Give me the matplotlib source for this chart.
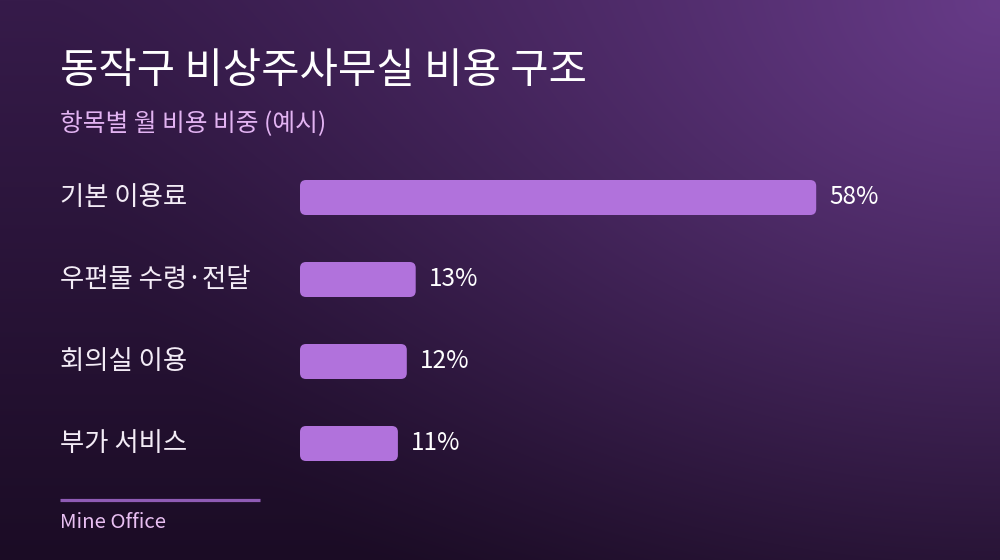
import numpy as np
import matplotlib.pyplot as plt
from matplotlib.colors import to_rgb
from matplotlib.patches import FancyBboxPatch
from matplotlib.transforms import blended_transform_factory

plt.rcParams['font.family'] = ['Noto Sans CJK KR', 'DejaVu Sans']

title = '동작구 비상주사무실 비용 구조'
subtitle = '항목별 월 비용 비중 (예시)'
categories = ['기본 이용료', '우편물 수령·전달', '회의실 이용', '부가 서비스']
shares = [58, 13, 12, 11]
brand = 'Mine Office'

W, H = 1000, 560
fig = plt.figure(figsize=(10, 5.6), dpi=100)

# background: dark vertical gradient + soft glow at top right
bg = fig.add_axes([0, 0, 1, 1])
bg.set_axis_off()
yy, xx = np.mgrid[0:H, 0:W]
top = np.array(to_rgb('#361b4a'))
bot = np.array(to_rgb('#1b0c25'))
t = (yy / H)[..., None]
img = top * (1 - t) + bot * t
glow = np.array(to_rgb('#673b88'))
d = np.sqrt((xx - W) ** 2 + (yy * 1.25) ** 2) / 950
g = np.clip(1 - d, 0, 1)[..., None] ** 1.3
img = img * (1 - g) + glow * g
bg.imshow(img, extent=[0, W, H, 0], aspect='auto')
bg.set_xlim(0, W)
bg.set_ylim(H, 0)

bg.text(60, 72, title, color='white', fontsize=30, fontweight='medium', va='center', ha='left')
bg.text(60, 124, subtitle, color='#e2b3f2', fontsize=17.8, va='center', ha='left')
bg.plot([60, 260], [500, 500], color='#8f5bb5', lw=2.3, solid_capstyle='butt')
bg.text(60, 522, brand, color='#e8bff2', fontsize=14.7, va='center', ha='left')

# bar area
px_per_pct = 8.9
row = 82
ax = fig.add_axes([300 / W, (H - 484.5) / H, 600 / W, 4 * row / H])
ax.set_axis_off()
ax.set_xlim(0, 600 / px_per_pct)
ax.set_ylim(len(categories) - 0.5, -0.5)
bar_h = 35 / row
r = 6 / px_per_pct
asp = (1 / row) / (1 / px_per_pct)
for i, (cat, v) in enumerate(zip(categories, shares)):
    ax.add_patch(FancyBboxPatch((0, i - bar_h / 2), v, bar_h,
                                boxstyle=f'round,pad=0,rounding_size={r}',
                                mutation_aspect=asp, fc='#b172dc', ec='none'))
    ax.text(v + 13 / px_per_pct, i, f'{v}%', color='white', fontsize=17.5,
            va='center', ha='left')

tr = blended_transform_factory(bg.transData, ax.transData)
for i, cat in enumerate(categories):
    ax.text(60, i, cat, transform=tr, color='#f3ecf6', fontsize=19,
            va='center', ha='left')

fig.savefig('out.png', dpi=100)
